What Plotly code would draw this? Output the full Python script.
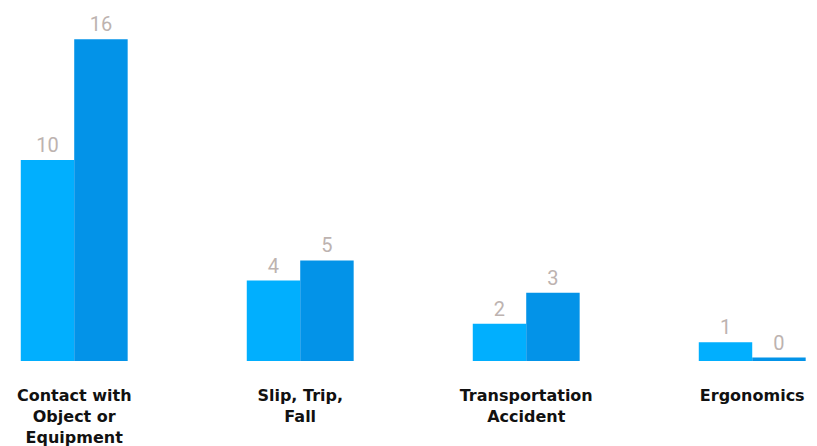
import plotly.graph_objects as go

categories = ["Contact with<br>Object or<br>Equipment", "Slip, Trip,<br>Fall", "Transportation<br>Accident", "Ergonomics"]
series_a_heights = [10, 4, 1.85, 0.93]
series_a_labels = ["10", "4", "2", "1"]
series_b_heights = [16, 5, 3.4, 0.17]
series_b_labels = ["16", "5", "3", "0"]

fig = go.Figure()
for h, lab, col in [(series_a_heights, series_a_labels, "#01AFFE"),
                    (series_b_heights, series_b_labels, "#0393E8")]:
    fig.add_trace(go.Bar(
        x=categories, y=h, text=lab, textposition="outside",
        texttemplate="%{text}", marker=dict(color=col, line=dict(width=0)),
        textfont=dict(family="Roboto", size=20, color="#BDB3B0"),
        cliponaxis=False, hoverinfo="skip",
    ))

fig.update_layout(
    width=817, height=446,
    margin=dict(l=0, r=0, t=12, b=93, autoexpand=False),
    paper_bgcolor="white", plot_bgcolor="white",
    barmode="group", bargap=0.527, bargroupgap=0,
    showlegend=False,
    xaxis=dict(type="category", range=[-0.293, 3.322], showgrid=False, showline=False,
               zeroline=False, ticks="", ticklabelstandoff=23, automargin=False,
               tickfont=dict(family="DejaVu Sans", size=16, color="#111111", weight="bold")),
    yaxis=dict(range=[0, 16.96], visible=False, showgrid=False, zeroline=False, automargin=False),
)
fig.write_html("out.html")
